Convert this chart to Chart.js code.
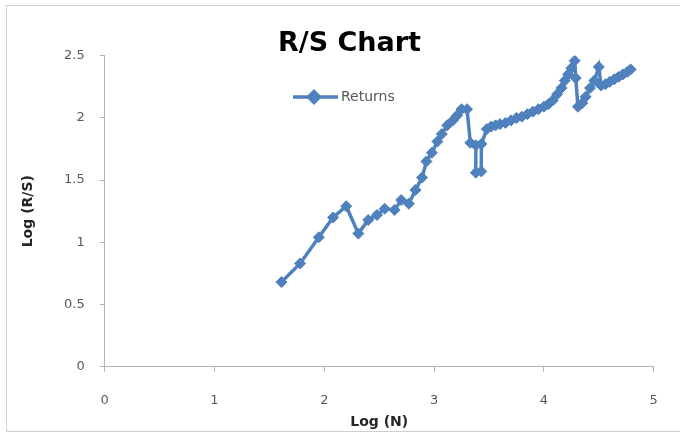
<!DOCTYPE html>
<html>
<head>
<meta charset="utf-8">
<script src="https://cdn.jsdelivr.net/npm/chart.js@4/dist/chart.umd.min.js"></script>
<style>
    html, body { margin: 0; padding: 0; background: #fff; }
    #box { width: 680px; height: 434px; }
</style>
</head>
<body>
<div id="box"><canvas id="grafico" width="680" height="434"></canvas></div>
<script>
// valores
const logN = [1.61, 1.78, 1.95, 2.08, 2.20, 2.31, 2.40, 2.48, 2.55, 2.64, 2.70, 2.77, 2.83, 2.89, 2.93, 2.98,
    3.03, 3.07, 3.12, 3.17, 3.21, 3.25, 3.30, 3.33, 3.38, 3.38, 3.43, 3.43, 3.48, 3.52, 3.56, 3.60, 3.65, 3.70,
    3.75, 3.80, 3.85, 3.90, 3.95, 4.00, 4.04, 4.08, 4.12, 4.16, 4.19, 4.22, 4.25, 4.28, 4.29, 4.31, 4.35, 4.38,
    4.42, 4.46, 4.50, 4.52, 4.56, 4.60, 4.64, 4.68, 4.72, 4.76, 4.79]
const logRS = [0.68, 0.83, 1.04, 1.20, 1.29, 1.07, 1.18, 1.22, 1.27, 1.26, 1.34, 1.31, 1.42, 1.52, 1.65, 1.72,
    1.81, 1.87, 1.94, 1.98, 2.02, 2.07, 2.07, 1.80, 1.78, 1.56, 1.57, 1.79, 1.91, 1.93, 1.94, 1.95, 1.96, 1.98,
    2.00, 2.01, 2.03, 2.05, 2.07, 2.09, 2.11, 2.14, 2.19, 2.24, 2.30, 2.35, 2.40, 2.46, 2.32, 2.09, 2.12, 2.17,
    2.24, 2.30, 2.41, 2.26, 2.27, 2.29, 2.31, 2.33, 2.35, 2.37, 2.39]
const xTicks = [0, 1, 2, 3, 4, 5]
const yTicks = [0, 0.5, 1, 1.5, 2, 2.5]
const serie = 'Returns'

;(() => {
    const azul = '#4F81BD'
    const cinza = '#b4b4b4'
    const fonte = "'DejaVu Sans', sans-serif"

    // moldura cinza do gráfico (como no Excel)
    const moldura = {
        id: 'moldura',
        beforeDraw(chart) {
            const ctx = chart.ctx
            ctx.save()
            ctx.fillStyle = '#fff'
            ctx.fillRect(0, 0, chart.width, chart.height)
            ctx.strokeStyle = '#cfcfcf'
            ctx.lineWidth = 1
            ctx.strokeRect(6.5, 5.5, chart.width + 10, 426)
            ctx.restore()
        }
    }

    // legenda dentro da área do gráfico: linha + losango + texto
    const legenda = {
        id: 'legenda',
        afterDatasetsDraw(chart) {
            const ctx = chart.ctx
            const y = 97
            ctx.save()
            ctx.strokeStyle = azul
            ctx.lineWidth = 3.5
            ctx.beginPath()
            ctx.moveTo(293, y)
            ctx.lineTo(338, y)
            ctx.stroke()
            ctx.fillStyle = azul
            Chart.helpers.drawPoint(ctx, { pointStyle: 'rectRot', radius: 5.5, borderWidth: 1 }, 314, y)
            ctx.fill()
            ctx.fillStyle = '#595959'
            ctx.font = '14px ' + fonte
            ctx.textBaseline = 'middle'
            ctx.fillText(serie, 341, y)
            ctx.restore()
        }
    }

    const data = {
        datasets: [{
            label: serie,
            data: logN.map((x, i) => ({ x: x, y: logRS[i] })),
            borderColor: azul,
            backgroundColor: azul,
            borderWidth: 3.5,
            pointStyle: 'rectRot',
            pointRadius: 5.5,
            pointBorderWidth: 1,
            tension: 0
        }]
    }

    const eixo = {
        grid: { display: true, drawOnChartArea: false, drawTicks: true, tickLength: 5, color: cinza },
        border: { display: true, color: cinza, width: 1 }
    }

    const config = {
        type: 'line',
        data: data,
        plugins: [moldura, legenda],
        options: {
            responsive: false,
            animation: false,
            layout: { padding: { left: 45.3, right: 26.3, top: 0, bottom: 0 } },
            plugins: {
                legend: { display: false },
                tooltip: { enabled: false },
                title: {
                    display: true,
                    text: 'R/S Chart',
                    color: '#000',
                    font: { family: fonte, size: 27, weight: 'bold', lineHeight: 1.2 },
                    padding: { top: 27.8, bottom: -4.5 }
                }
            },
            scales: {
                x: {
                    ...eixo,
                    type: 'linear',
                    min: xTicks[0],
                    max: xTicks[xTicks.length - 1],
                    ticks: { stepSize: 1, color: '#595959', padding: 21, font: { family: fonte, size: 13 }, callback: v => String(v) },
                    title: { display: true, text: 'Log (N)', color: '#262626', font: { family: fonte, size: 14, weight: 'bold', lineHeight: 1.2 }, padding: { top: 0, bottom: 3.5 } },
                    afterFit: s => { s.height = 67.3 }
                },
                y: {
                    ...eixo,
                    min: yTicks[0],
                    max: yTicks[yTicks.length - 1],
                    ticks: { stepSize: 0.5, color: '#595959', padding: 15, font: { family: fonte, size: 13 }, callback: v => String(v) },
                    title: { display: true, text: 'Log (R/S)', color: '#262626', font: { family: fonte, size: 14, weight: 'bold', lineHeight: 1.2 }, padding: { top: -25.7, bottom: 0 } },
                    afterFit: s => { s.width = 59.4 }
                }
            }
        }
    }

    new Chart(document.getElementById('grafico'), config)
})()
</script>
</body>
</html>
